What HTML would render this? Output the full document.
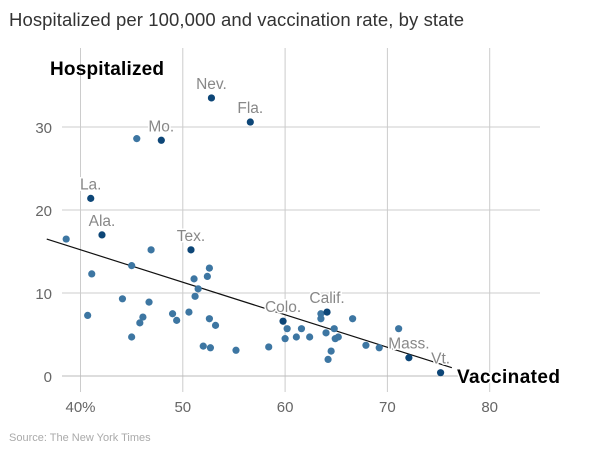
<!DOCTYPE html>
<html><head><meta charset="utf-8"><style>
body{margin:0;background:#fff;width:600px;height:475px;overflow:hidden;font-family:"Liberation Sans",sans-serif}
</style></head><body>
<svg id="c" width="600" height="475" style="position:absolute;left:0;top:0">
<text x="9" y="26" font-size="18.5" fill="#333" textLength="455">Hospitalized per 100,000 and vaccination rate, by state</text>
<g id="grid"></g><g id="marks"></g>
<text x="50" y="75" font-size="19" font-weight="bold" fill="#000" textLength="114">Hospitalized</text>
<text x="457" y="383" font-size="19" font-weight="bold" fill="#000" stroke="#fff" stroke-width="3" paint-order="stroke" textLength="103">Vaccinated</text>
<text x="9" y="441" font-size="11" fill="#aaa">Source: The New York Times</text>
</svg>
<script>
const xTicks=[40,50,60,70,80];
const yTicks=[0,10,20,30];
const states=["","Ala.","La.","","Tex.",
"","","","","","","","","","","","","","","","","","","","","","",
"Colo.","","","","","","","",
"Calif.","","","","","","","","","","",
"Mass.","Vt.","Mo.","","Nev.","Fla."];
const vacc=[38.6,42.1,41.0,46.9,50.8,41.1,45.0,52.6,52.4,51.1,51.5,51.2,44.1,46.7,40.7,49.0,49.4,50.6,46.1,45.8,52.6,53.2,45.0,52.0,52.7,55.2,58.4,59.8,60.2,60.0,61.1,61.6,62.4,63.5,63.5,64.1,66.6,64.0,64.8,64.9,65.2,64.5,64.2,67.9,69.2,71.1,72.1,75.2,47.9,45.5,52.8,56.6];
const hosp=[16.5,17.0,21.4,15.2,15.2,12.3,13.3,13.0,12.0,11.7,10.5,9.6,9.3,8.9,7.3,7.5,6.7,7.7,7.1,6.4,6.9,6.1,4.7,3.6,3.4,3.1,3.5,6.6,5.7,4.5,4.7,5.7,4.7,7.5,6.9,7.7,6.9,5.2,5.7,4.5,4.7,3.0,2.0,3.7,3.4,5.7,2.2,0.4,28.4,28.6,33.5,30.6];
const trendX=[36.7,76.3];
const trendY=[16.5,1.0];
const X=v=>80.5+(v-40)*10.23;
const Y=v=>376-v*8.3;
const NS="http://www.w3.org/2000/svg";
function mk(t,a,p){const e=document.createElementNS(NS,t);for(const k in a)e.setAttribute(k,a[k]);p.appendChild(e);return e;}
const g=document.getElementById('grid'),m=document.getElementById('marks');
xTicks.forEach(t=>{
 const l=mk('line',{x1:X(t),x2:X(t),y1:48,y2:392,stroke:'#ccc','stroke-width':1},g);
 
 
 const tx=mk('text',{x:X(t),y:412,'text-anchor':'middle','font-size':15,fill:'#666'},g);
 tx.textContent=t===40?'40%':t;
 
 
});
yTicks.forEach(t=>{
 const l=mk('line',{x1:62,x2:540,y1:Y(t),y2:Y(t),stroke:t===0?'#bbb':'#ccc','stroke-width':1},g);
 
 
 const tx=mk('text',{x:52,y:Y(t)+6,'text-anchor':'end','font-size':15,fill:'#666'},g);
 tx.textContent=t;
 
 
});
const tl=mk('line',{x1:X(trendX[0]),y1:Y(trendY[0]),x2:X(trendX[1]),y2:Y(trendY[1]),stroke:'#111','stroke-width':1.2},m);


vacc.forEach((v,i)=>{
 const dark=states[i]!=="";
 const c=mk('circle',{cx:X(v),cy:Y(hosp[i]),r:3.6,fill:dark?'#0d4677':'#3d76a2'},m);
 
 
 if(dark){
  const tx=mk('text',{x:X(v),y:Y(hosp[i])-9,'text-anchor':'middle','font-size':15.5,fill:'#888',stroke:'#fff','stroke-width':3,'paint-order':'stroke'},m);
  tx.textContent=states[i];
  
  
 }
});
</script>
</body></html>
